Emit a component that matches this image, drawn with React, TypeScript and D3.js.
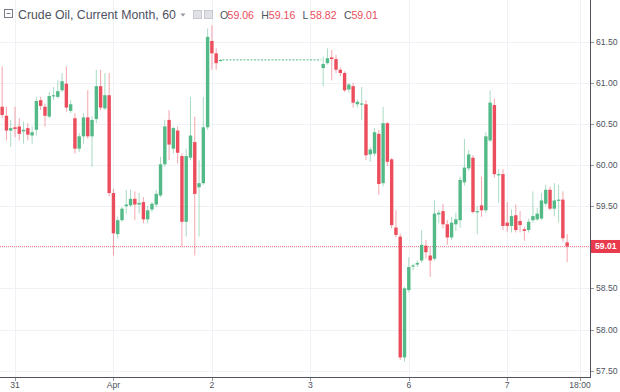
import React from 'react';
import * as d3 from 'd3';

// bar slot indices (hourly bars); gap between 51 and 75 (no trading)
const barIndex: number[] = d3.range(0, 52).concat(d3.range(75, 133));

const opens = [
  60.71, 60.60, 60.42, 60.46, 60.47, 60.41, 60.45, 60.36, 60.43, 60.79,
  60.71, 60.59, 60.84, 60.83, 60.91, 60.99, 60.66, 60.57, 60.20, 60.35,
  60.58, 60.35, 60.56, 60.96, 60.69, 60.85, 59.66, 59.16, 59.33, 59.50,
  59.51, 59.59, 59.52, 59.55, 59.34, 59.46, 59.52, 59.63, 60.01, 60.55,
  60.20, 60.42, 60.11, 59.31, 60.09, 60.28, 59.73, 59.78, 60.46, 61.51,
  61.36, 61.27,
  61.18, 61.24, 61.31, 61.29, 61.16, 61.12, 60.92, 60.96, 60.74, 60.745,
  60.74, 60.13, 60.14, 60.38, 59.78, 60.51, 60.07, 59.24, 59.13, 57.66,
  58.48, 58.77, 58.79, 58.84, 59.02, 58.90, 58.86, 59.40, 59.44, 59.28,
  59.12, 59.28, 59.33, 59.79, 59.96, 60.09, 59.43, 59.51, 59.45, 60.30,
  60.73, 59.88, 59.89, 59.30, 59.26, 59.39, 59.32, 59.22, 59.21, 59.33,
  59.34, 59.35, 59.53, 59.70, 59.47, 59.57, 59.58, 59.06,
];
const highs = [
  61.20, 60.71, 60.55, 60.71, 60.57, 60.53, 60.51, 60.47, 60.83, 60.83,
  60.75, 60.89, 60.95, 61.03, 61.12, 61.20, 60.79, 60.63, 60.39, 60.63,
  60.91, 60.59, 61.16, 61.16, 61.12, 61.12, 59.71, 59.37, 59.49, 59.70,
  59.70, 59.68, 59.66, 59.61, 59.51, 59.55, 59.70, 60.10, 60.55, 60.67,
  60.47, 60.47, 60.14, 60.20, 60.83, 60.59, 60.06, 60.83, 61.66, 61.70,
  61.42, 61.29,
  61.32, 61.42, 61.40, 61.34, 61.19, 61.14, 61.00, 61.00, 60.80, 60.95,
  60.79, 60.22, 60.45, 60.43, 60.71, 60.52, 60.09, 59.45, 59.17, 58.52,
  58.88, 58.80, 58.84, 59.21, 59.09, 59.01, 59.57, 59.45, 59.53, 59.33,
  59.37, 59.42, 59.86, 60.32, 60.18, 60.12, 59.50, 59.86, 60.40, 60.91,
  60.81, 59.95, 59.95, 59.55, 59.46, 59.52, 59.44, 59.25, 59.35, 59.68,
  59.48, 59.66, 59.76, 59.74, 59.78, 59.76, 59.68, 59.16,
];
const lows = [
  60.57, 60.30, 60.22, 60.34, 60.30, 60.26, 60.30, 60.26, 60.36, 60.67,
  60.47, 60.57, 60.79, 60.81, 60.89, 60.65, 60.63, 60.14, 60.16, 60.26,
  60.32, 59.98, 60.51, 60.67, 60.67, 59.62, 58.90, 59.11, 59.31, 59.41,
  59.49, 59.33, 59.41, 59.29, 59.29, 59.43, 59.49, 59.61, 59.98, 60.06,
  60.14, 60.02, 59.01, 59.13, 60.06, 58.90, 59.13, 59.76, 60.43, 61.16,
  61.16, 61.26,
  60.96, 61.22, 61.03, 61.12, 61.08, 60.89, 60.88, 60.70, 60.70, 60.55,
  60.06, 60.04, 60.11, 59.64, 59.74, 59.99, 59.23, 59.12, 57.63, 57.61,
  58.45, 58.72, 58.76, 58.81, 58.86, 58.64, 58.84, 59.29, 59.23, 59.03,
  59.09, 59.20, 59.24, 59.75, 59.93, 59.41, 59.16, 59.37, 59.42, 60.28,
  59.85, 59.54, 59.21, 59.19, 59.18, 59.18, 59.18, 59.08, 59.18, 59.30,
  59.32, 59.33, 59.50, 59.45, 59.38, 59.30, 59.07, 58.82,
];
const closes = [
  60.61, 60.42, 60.45, 60.44, 60.38, 60.43, 60.37, 60.40, 60.78, 60.72,
  60.60, 60.84, 60.85, 60.90, 61.02, 60.70, 60.74, 60.20, 60.35, 60.58,
  60.35, 60.55, 60.96, 60.70, 60.85, 59.66, 59.17, 59.33, 59.47, 59.52,
  59.59, 59.52, 59.54, 59.34, 59.45, 59.53, 59.65, 60.01, 60.47, 60.25,
  60.45, 60.15, 59.31, 60.11, 60.36, 59.65, 59.78, 60.46, 61.56, 61.36,
  61.24, 61.28,
  61.23, 61.30, 61.29, 61.16, 61.12, 60.91, 60.98, 60.76, 60.77, 60.75,
  60.12, 60.19, 60.40, 59.77, 60.51, 60.04, 59.27, 59.15, 57.66, 58.50,
  58.76, 58.78, 58.81, 59.03, 58.94, 58.84, 59.41, 59.42, 59.28, 59.12,
  59.30, 59.34, 59.82, 59.97, 60.13, 59.43, 59.44, 59.45, 60.35, 60.76,
  59.89, 59.89, 59.26, 59.26, 59.38, 59.21, 59.27, 59.20, 59.31, 59.38,
  59.41, 59.57, 59.70, 59.47, 59.57, 59.58, 59.11, 59.01,
];

const priceTicks = [57.5, 58.0, 58.5, 59.0, 59.5, 60.0, 60.5, 61.0, 61.5];
const priceTickLabels = ['57.50', '58.00', '58.50', '', '59.50', '60.00', '60.50', '61.00', '61.50'];
const dateTickIndex = [3, 26, 49, 72, 95, 118, 135];
const dateTickLabels = ['31', 'Apr', '2', '3', '6', '7', '18:00'];

const title = 'Crude Oil, Current Month, 60';
const ohlcKeys = ['O', 'H', 'L', 'C'];
const ohlcValues = ['59.06', '59.16', '58.82', '59.01'];
const lastPrice = 59.01;
const gapFrom = 51;
const gapTo = 75;

const W = 620;
const H = 392;
const plotRight = 590;
const plotBottom = 377;
const UP = '#53b987';
const DOWN = '#eb4d5c';
const GRID = '#eef1f5';
const AXIS = '#50535e';
const FONT = "'Liberation Sans', Arial, sans-serif";

export default function App() {
  const x = d3.scaleLinear().domain([3, 135]).range([15, 580]);
  const y = d3.scaleLinear().domain([57.5, 61.5]).range([370.6, 41.8]);

  const bars = barIndex.map((idx, k) => ({
    idx,
    o: opens[k],
    h: highs[k],
    l: lows[k],
    c: closes[k],
  }));

  const gapPrice = closes[barIndex.indexOf(gapFrom)];

  const ohlcParts: { key: string; val: string; x: number }[] = [];
  let ox = 220;
  ohlcKeys.forEach((k, i) => {
    ohlcParts.push({ key: k, val: ohlcValues[i], x: ox });
    ox += 41.3;
  });

  return (
    <>
      <style>{`body{margin:0;} #root{line-height:0;}`}</style>
      <svg width={W} height={H} style={{ display: 'block', background: '#fff' }} fontFamily={FONT}>
        {/* grid */}
        <g>
          {priceTicks.map((p) => (
            <line key={'hg' + p} x1={0} x2={plotRight} y1={Math.round(y(p)) + 0.5} y2={Math.round(y(p)) + 0.5} stroke={GRID} strokeWidth={1} />
          ))}
          {dateTickIndex.map((d) => (
            <line key={'vg' + d} x1={Math.round(x(d)) + 0.5} x2={Math.round(x(d)) + 0.5} y1={0} y2={plotBottom} stroke={GRID} strokeWidth={1} />
          ))}
        </g>

        {/* last price line */}
        <line x1={0} x2={plotRight} y1={y(lastPrice)} y2={y(lastPrice)} stroke={DOWN} strokeOpacity={0.75} strokeWidth={1} strokeDasharray="1,1" />

        {/* gap connector */}
        <line x1={x(gapFrom) + 2} x2={x(gapTo) - 2} y1={y(gapPrice)} y2={y(gapPrice)} stroke={UP} strokeWidth={1} strokeDasharray="2,1.5" />

        {/* candles */}
        <g>
          {bars.map((b) => {
            const up = b.c >= b.o;
            const col = up ? UP : DOWN;
            const cx = x(b.idx);
            const top = y(Math.max(b.o, b.c));
            const bot = y(Math.min(b.o, b.c));
            const hgt = Math.max(1.2, bot - top);
            return (
              <g key={b.idx}>
                <line x1={cx} x2={cx} y1={y(b.h)} y2={y(b.l)} stroke={col} strokeOpacity={0.5} strokeWidth={1} />
                <rect x={cx - 1.7} y={top} width={3.4} height={hgt} fill={col} />
              </g>
            );
          })}
        </g>

        {/* right axis */}
        <line x1={plotRight + 0.5} x2={plotRight + 0.5} y1={0} y2={plotBottom + 1} stroke={AXIS} strokeWidth={1} />
        {priceTicks.map((p, i) => (
          <g key={'pt' + p}>
            <line x1={plotRight} x2={plotRight + 4} y1={Math.round(y(p)) + 0.5} y2={Math.round(y(p)) + 0.5} stroke={AXIS} strokeOpacity={0.6} />
            {priceTickLabels[i] && (
              <text x={596} y={y(p)} dy="0.35em" fontSize={8.6} fill="#4e5260">
                {priceTickLabels[i]}
              </text>
            )}
          </g>
        ))}
        <rect x={591} y={y(lastPrice) - 6.5} width={29} height={13} fill="#e8394d" />
        <text x={595} y={y(lastPrice)} dy="0.35em" fontSize={8.6} fontWeight="bold" fill="#fff">
          {lastPrice.toFixed(2)}
        </text>

        {/* bottom axis */}
        <line x1={0} x2={plotRight + 1} y1={plotBottom + 0.5} y2={plotBottom + 0.5} stroke={AXIS} strokeWidth={1} />
        {dateTickIndex.map((d, i) => (
          <g key={'dt' + d}>
            <line x1={Math.round(x(d)) + 0.5} x2={Math.round(x(d)) + 0.5} y1={plotBottom} y2={plotBottom + 4} stroke={AXIS} strokeOpacity={0.6} />
            <text x={x(d)} y={384.5} dy="0.35em" textAnchor="middle" fontSize={8.6} fill="#4e5260">
              {dateTickLabels[i]}
            </text>
          </g>
        ))}

        {/* header */}
        <g>
          <rect x={4.5} y={9.5} width={8} height={8} fill="none" stroke="#787b86" strokeWidth={1} />
          <line x1={6.5} x2={10.5} y1={13.5} y2={13.5} stroke="#787b86" />
          <text x={18} y={19} fontSize={12.3} fill="#4e5260">{title}</text>
          <path d="M180.5,13.5 L185.5,13.5 L183,16.5 Z" fill="#9598a1" />
          <rect x={193.5} y={10.5} width={8} height={8} fill="#dfe1e6" stroke="#c5c8cf" />
          <rect x={204.5} y={10.5} width={8} height={8} fill="#dfe1e6" stroke="#c5c8cf" />
          {ohlcParts.map((p) => (
            <g key={p.key}>
              <text x={p.x} y={19} fontSize={10.6} fill="#4e5260">{p.key}</text>
              <text x={p.x + 7.5} y={19} fontSize={10.6} fill={DOWN}>{p.val}</text>
            </g>
          ))}
        </g>
      </svg>
    </>
  );
}
